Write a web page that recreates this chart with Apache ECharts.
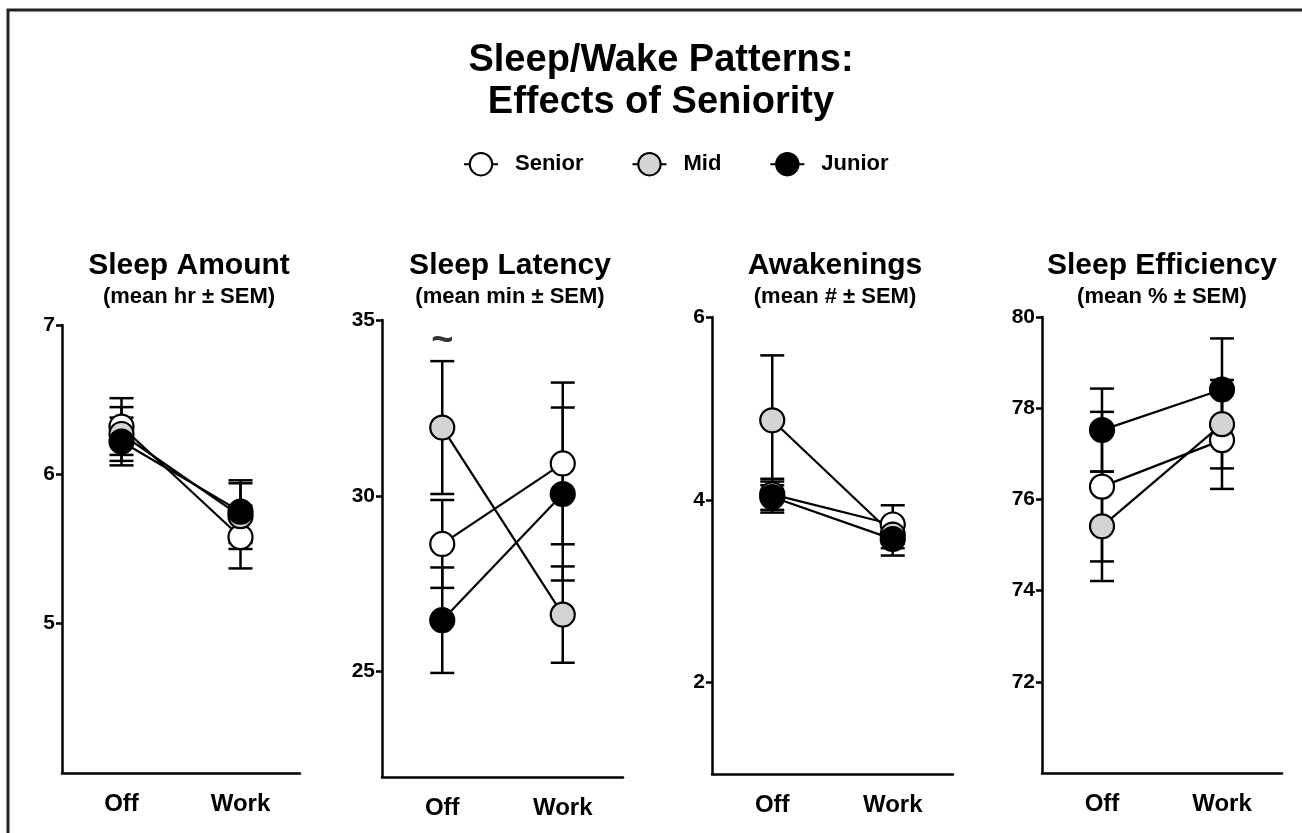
<!DOCTYPE html>
<html>
<head>
<meta charset="utf-8">
<script src="https://cdn.jsdelivr.net/npm/echarts@6/dist/echarts.min.js"></script>
<style>
  html, body { margin: 0; padding: 0; background: #fff; }
  #main { width: 1302px; height: 833px; }
</style>
</head>
<body>
<div id="main"></div>
<script>
  // categories and groups
  const conditions = ['Off', 'Work']
  const groups = ['Senior', 'Mid', 'Junior']

  // means per group (Senior, Mid, Junior) for Off / Work, and the SEM
  const amountMeans = [[6.32, 5.58], [6.27, 5.72], [6.22, 5.75]]
  const amountSems = [[0.19, 0.21], [0.18, 0.22], [0.16, 0.21]]

  const latencyMeans = [[28.63, 30.92], [31.94, 26.62], [26.46, 30.05]]
  const latencySems = [[1.25, 2.3], [1.89, 1.37], [1.5, 2.46]]

  const awakeMeans = [[4.06, 3.73], [4.87, 3.62], [4.03, 3.57]]
  const awakeSems = [[0.17, 0.21], [0.71, 0.15], [0.17, 0.18]]

  const efficiencyMeans = [[76.28, 77.30], [75.41, 77.65], [77.52, 78.41]]
  const efficiencySems = [[1.64, 1.07], [1.20, 0.97], [0.91, 1.12]]

  // significance mark over the latency panel
  const latencyMarkText = '~'
  const latencyMarkAt = [0, 34.4]

  // tick labels
  const amountTicks = [5, 6, 7]
  const latencyTicks = [25, 30, 35]
  const awakeTicks = [2, 4, 6]
  const efficiencyTicks = [72, 74, 76, 78, 80]

  const panels = [
    {title: 'Sleep Amount', sub: '(mean hr ± SEM)', means: amountMeans, sems: amountSems, min: 4, max: 7, ticks: amountTicks,
      grid: {left: 62, top: 325, width: 238, height: 448}, cx: 189},
    {title: 'Sleep Latency', sub: '(mean min ± SEM)', means: latencyMeans, sems: latencySems, min: 22, max: 35, ticks: latencyTicks,
      grid: {left: 382, top: 320, width: 241, height: 457}, cx: 510},
    {title: 'Awakenings', sub: '(mean # ± SEM)', means: awakeMeans, sems: awakeSems, min: 1, max: 6, ticks: awakeTicks,
      grid: {left: 712, top: 317, width: 241, height: 457}, cx: 835},
    {title: 'Sleep Efficiency', sub: '(mean % ± SEM)', means: efficiencyMeans, sems: efficiencySems, min: 70, max: 80, ticks: efficiencyTicks,
      grid: {left: 1042, top: 317, width: 240, height: 456}, cx: 1162}
  ]

  const fills = ['#ffffff', '#d4d4d4', '#000000']
  const font = 'Liberation Sans, Arial, sans-serif'

  let myChart = echarts.init(document.getElementById('main'))

  let titles = [
    {
      text: 'Sleep/Wake Patterns:\nEffects of Seniority',
      left: 661, top: 40, textAlign: 'center', padding: 0,
      textStyle: {fontSize: 38, fontWeight: 'bold', color: '#000', fontFamily: font, lineHeight: 42}
    }
  ]
  let grids = []
  let xAxes = []
  let yAxes = []
  let series = []

  panels.forEach((p, k) => {
    titles.push({
      text: p.title,
      subtext: p.sub,
      left: p.cx, top: 251, textAlign: 'center', itemGap: 5, padding: 0,
      textStyle: {fontSize: 30, fontWeight: 'bold', color: '#000', fontFamily: font},
      subtextStyle: {fontSize: 22, fontWeight: 'bold', color: '#000', fontFamily: font}
    })
    grids.push(p.grid)
    xAxes.push({
      gridIndex: k,
      type: 'category',
      data: conditions,
      boundaryGap: true,
      axisLine: {lineStyle: {color: '#000', width: 2.5}},
      axisTick: {alignWithLabel: true, length: 9, lineStyle: {color: '#000', width: 2.5}},
      axisLabel: {fontSize: 24, fontWeight: 'bold', color: '#000', fontFamily: font, margin: 19}
    })
    yAxes.push({
      gridIndex: k,
      type: 'value',
      min: p.min,
      max: p.max,
      splitLine: {show: false},
      axisLine: {show: true, lineStyle: {color: '#000', width: 2.5}},
      axisTick: {show: true, length: 6, customValues: p.ticks, lineStyle: {color: '#000', width: 2.5}},
      axisLabel: {customValues: p.ticks, fontSize: 21, fontWeight: 'bold', color: '#000', fontFamily: font, margin: 7}
    })

    // error bars
    groups.forEach((g, i) => {
      let bars = conditions.map((c, j) => [j, p.means[i][j] - p.sems[i][j], p.means[i][j] + p.sems[i][j]])
      series.push({
        type: 'custom',
        xAxisIndex: k,
        yAxisIndex: k,
        z: 1,
        silent: true,
        data: bars,
        renderItem: (params, api) => {
          let lo = api.coord([api.value(0), api.value(1)])
          let hi = api.coord([api.value(0), api.value(2)])
          let hw = 12
          let style = {stroke: '#000', lineWidth: 2.5}
          return {
            type: 'group',
            children: [
              {type: 'line', shape: {x1: lo[0], y1: lo[1], x2: hi[0], y2: hi[1]}, style: style},
              {type: 'line', shape: {x1: lo[0] - hw, y1: lo[1], x2: lo[0] + hw, y2: lo[1]}, style: style},
              {type: 'line', shape: {x1: hi[0] - hw, y1: hi[1], x2: hi[0] + hw, y2: hi[1]}, style: style}
            ]
          }
        }
      })
    })

    // mean lines with markers
    groups.forEach((g, i) => {
      series.push({
        name: g,
        type: 'line',
        xAxisIndex: k,
        yAxisIndex: k,
        z: 3,
        data: p.means[i],
        symbol: 'circle',
        symbolSize: 24,
        lineStyle: {color: '#000', width: 2.2},
        itemStyle: {color: fills[i], borderColor: '#000', borderWidth: 2.2}
      })
    })
  })

  // "~" annotation above latency Off
  series.push({
    type: 'scatter',
    xAxisIndex: 1,
    yAxisIndex: 1,
    symbolSize: 1,
    itemStyle: {color: 'rgba(0,0,0,0)'},
    data: [latencyMarkAt],
    label: {show: true, position: 'inside', formatter: latencyMarkText, fontSize: 38, fontWeight: 'bold', color: '#000', fontFamily: font}
  })

  myChart.setOption({
    backgroundColor: '#fff',
    animation: false,
    title: titles,
    legend: {
      data: groups,
      left: 458,
      top: 147,
      itemWidth: 34,
      itemHeight: 28,
      itemGap: 48,
      textStyle: {fontSize: 22, fontWeight: 'bold', color: '#000', fontFamily: font, padding: [0, 0, 0, 12]}
    },
    grid: grids,
    xAxis: xAxes,
    yAxis: yAxes,
    series: series,
    graphic: [
      {
        type: 'polyline',
        silent: true,
        shape: {points: [[8, 833], [8, 10], [1302, 10]]},
        style: {stroke: '#222', lineWidth: 3, fill: null}
      }
    ]
  })
</script>
</body>
</html>
